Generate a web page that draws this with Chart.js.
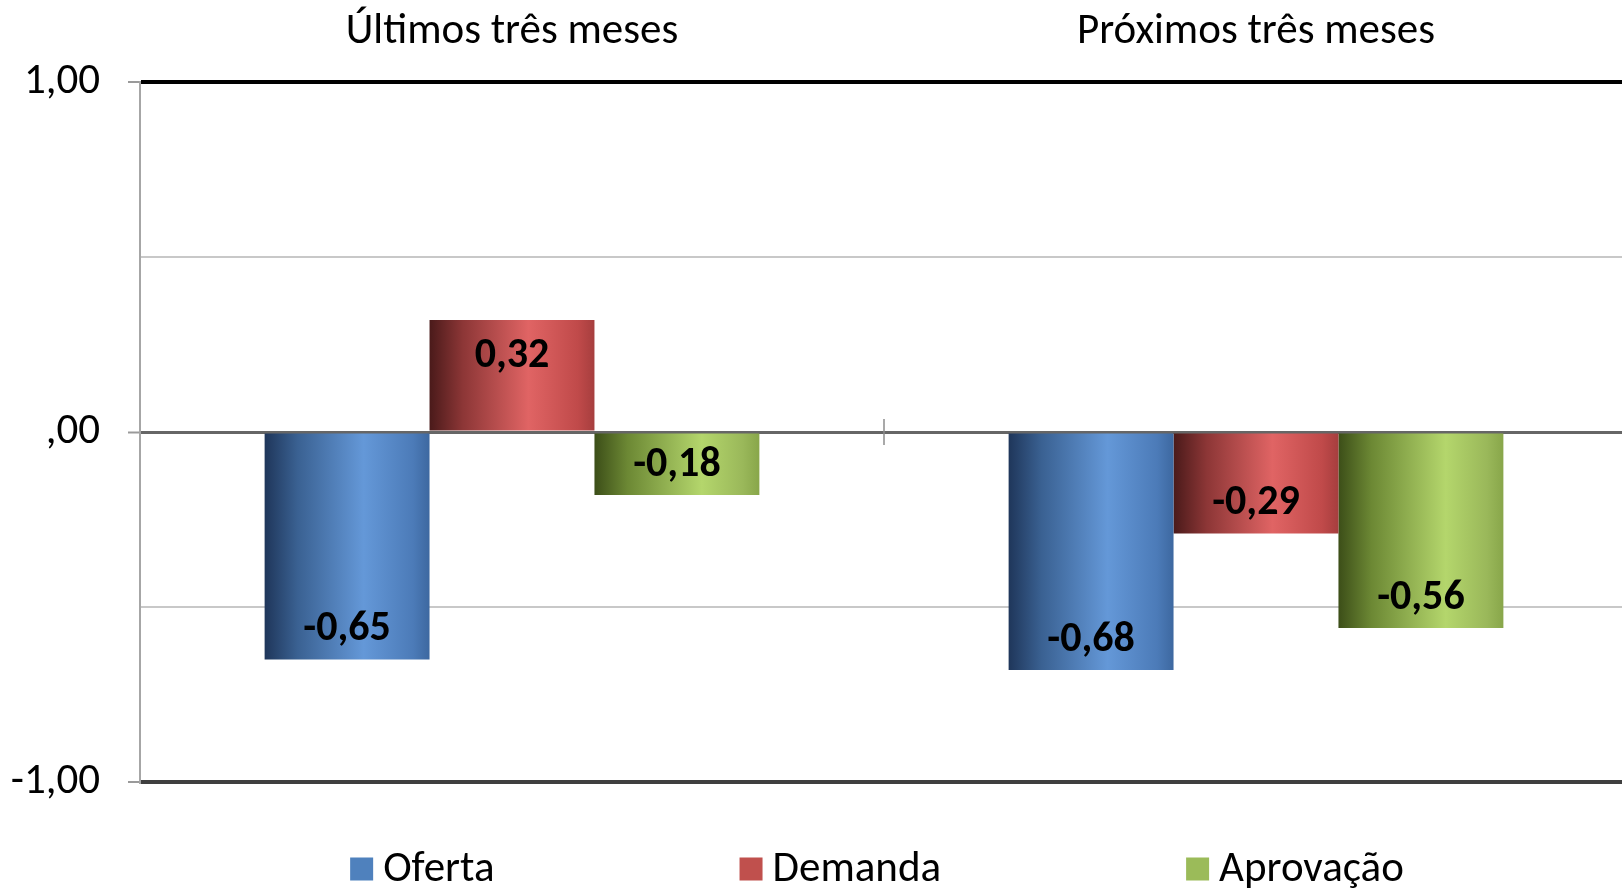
<!DOCTYPE html>
<html>
<head>
<meta charset="utf-8">
<script src="https://cdn.jsdelivr.net/npm/chart.js@4.4.1/dist/chart.umd.min.js"></script>
<style>
  html, body { margin: 0; padding: 0; background: #fff; overflow: hidden; }
  #wrap { position: absolute; left: 0; top: 0; width: 1754px; height: 892px; }
</style>
</head>
<body>
<div id="wrap"><canvas id="c" width="1754" height="892"></canvas></div>
<script>
const categories = ['Últimos três meses', 'Próximos três meses'];
const seriesNames = ['Oferta', 'Demanda', 'Aprovação'];
const oferta = [-0.65, -0.68];
const demanda = [0.32, -0.29];
const aprovacao = [-0.18, -0.56];
const seriesColors = ['#4f81bd', '#c0504d', '#9bbb59'];
const labeledTicks = [-1, 0, 1];

const FONT = 'Carlito, Lato, sans-serif';

// horizontal shading of each bar, dark left edge -> highlight -> mid
const shades = [
  [[0, '#1f365a'], [0.2, '#3a6192'], [0.6, '#6498d8'], [0.9, '#4c7bb8'], [1, '#3d68a0']],
  [[0, '#4a1a1a'], [0.2, '#8c3636'], [0.6, '#e06464'], [0.9, '#c04a4a'], [1, '#a63e3e']],
  [[0, '#3c4e18'], [0.2, '#6c8834'], [0.65, '#b4d66c'], [0.9, '#9ab85a'], [1, '#88a64a']]
];

function fmt(v) {
  return v.toFixed(2).replace('.', ',');
}
function tickText(v) {
  if (!labeledTicks.includes(v)) return '';
  return v === 0 ? ',00' : fmt(v);
}

const barLook = {
  id: 'barLook',
  beforeDatasetsDraw(chart) {
    const ctx = chart.ctx;
    chart.data.datasets.forEach((ds, i) => {
      chart.getDatasetMeta(i).data.forEach(bar => {
        const {x, width} = bar.getProps(['x', 'width'], true);
        const g = ctx.createLinearGradient(x - width / 2, 0, x + width / 2, 0);
        shades[i].forEach(([o, c]) => g.addColorStop(o, c));
        bar.options = Object.assign({}, bar.options, {backgroundColor: g});
      });
    });
  },
  afterDatasetsDraw(chart) {
    const ctx = chart.ctx;
    ctx.save();
    ctx.font = 'bold 42px ' + FONT;
    ctx.fillStyle = '#000';
    ctx.textAlign = 'center';
    ctx.textBaseline = 'middle';
    chart.data.datasets.forEach((ds, i) => {
      chart.getDatasetMeta(i).data.forEach((bar, j) => {
        const v = ds.data[j];
        const {x, y} = bar.getProps(['x', 'y'], true);
        ctx.fillText(fmt(v), x, v < 0 ? y - 30 : y + 36);
      });
    });
    ctx.restore();
  },
  afterDraw(chart) {
    const ctx = chart.ctx;
    const xs = chart.scales.x, ys = chart.scales.y;
    ctx.save();
    // category divider tick on the zero line
    const mid = (xs.getPixelForValue(0) + xs.getPixelForValue(1)) / 2;
    const y0 = ys.getPixelForValue(0);
    ctx.strokeStyle = '#8c8c8c';
    ctx.lineWidth = 1.5;
    ctx.beginPath();
    ctx.moveTo(mid, y0 - 13);
    ctx.lineTo(mid, y0 + 13);
    ctx.stroke();

    // legend with wide spacing
    ctx.font = '43px ' + FONT;
    ctx.textBaseline = 'middle';
    ctx.textAlign = 'left';
    const box = 23, gapText = 10, gapItem = 245;
    const widths = seriesNames.map(n => box + gapText + ctx.measureText(n).width);
    const total = widths.reduce((a, b) => a + b, 0) + gapItem * (widths.length - 1);
    let x = chart.width / 2 - total / 2;
    const ly = 869;
    seriesNames.forEach((n, i) => {
      ctx.fillStyle = seriesColors[i];
      ctx.fillRect(x, ly - box / 2, box, box);
      ctx.fillStyle = '#000';
      ctx.fillText(n, x + box + gapText, ly + 1);
      x += widths[i] + gapItem;
    });
    ctx.restore();
  }
};

const gridColor = c => {
  const v = c.tick && c.tick.value;
  if (v === 1) return '#000000';
  if (v === -1) return '#3f3f3f';
  if (v === 0) return '#666666';
  return '#c8c8c8';
};
const gridWidth = c => {
  const v = c.tick && c.tick.value;
  if (v === 1 || v === -1) return 4;
  if (v === 0) return 3;
  return 2;
};

new Chart(document.getElementById('c').getContext('2d'), {
  type: 'bar',
  data: {
    labels: categories,
    datasets: [
      {label: seriesNames[0], data: oferta, backgroundColor: seriesColors[0]},
      {label: seriesNames[1], data: demanda, backgroundColor: seriesColors[1]},
      {label: seriesNames[2], data: aprovacao, backgroundColor: seriesColors[2]}
    ]
  },
  options: {
    responsive: false,
    animation: false,
    events: [],
    layout: {padding: {top: 0, left: 0, right: 126, bottom: 110}},
    datasets: {bar: {barPercentage: 1, categoryPercentage: 0.665}},
    plugins: {legend: {display: false}, tooltip: {enabled: false}},
    scales: {
      x: {
        position: 'top',
        grid: {display: false, drawTicks: false},
        border: {display: false},
        ticks: {color: '#000', font: {family: FONT, size: 43}, padding: 24},
        afterFit(s) { s.height = 82; }
      },
      y: {
        min: -1,
        max: 1,
        ticks: {
          stepSize: 0.5,
          color: '#000',
          font: {family: FONT, size: 43},
          padding: 28,
          callback: v => tickText(v)
        },
        grid: {
          color: gridColor,
          lineWidth: gridWidth,
          tickLength: 12,
          tickColor: c => labeledTicks.includes(c.tick.value) ? '#9a9a9a' : 'rgba(0,0,0,0)',
          tickWidth: 2
        },
        border: {display: true, color: '#a6a6a6', width: 2},
        afterFit(s) { s.width = 140; }
      }
    }
  },
  plugins: [barLook]
});
</script>
</body>
</html>
